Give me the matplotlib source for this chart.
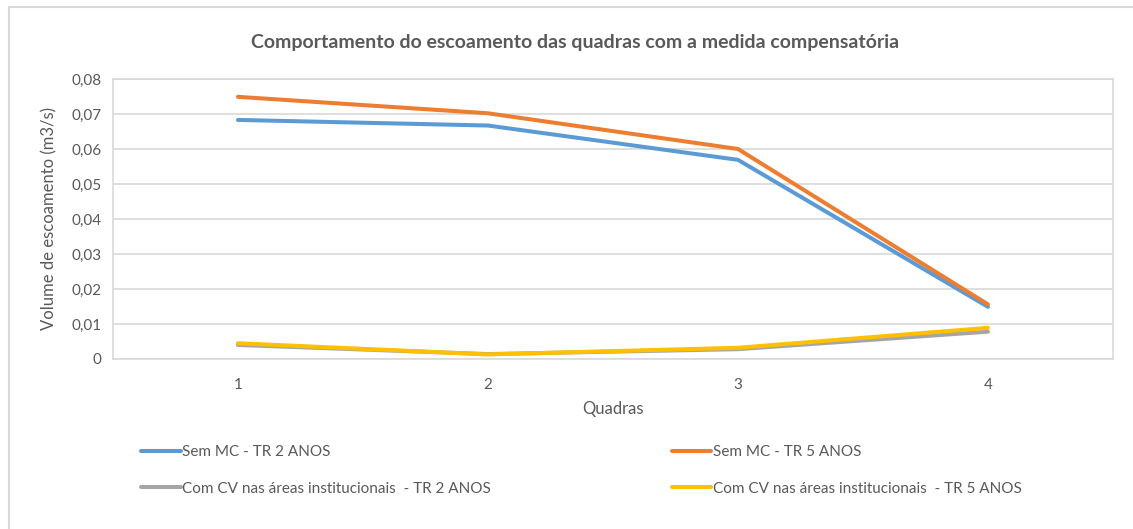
import matplotlib.pyplot as plt
from matplotlib.lines import Line2D

plt.rcParams['font.family'] = ['Lato', 'DejaVu Sans']

quadras = [1, 2, 3, 4]
sem_mc_tr2 = [0.0683, 0.0667, 0.0569, 0.0149]
sem_mc_tr5 = [0.0749, 0.0702, 0.0600, 0.0156]
com_cv_tr2 = [0.0040, 0.0014, 0.0028, 0.0078]
com_cv_tr5 = [0.0045, 0.0013, 0.0032, 0.0089]
y_ticks = [0, 0.01, 0.02, 0.03, 0.04, 0.05, 0.06, 0.07, 0.08]
y_labels = ['0', '0,01', '0,02', '0,03', '0,04', '0,05', '0,06', '0,07', '0,08']

series = [
    ('Sem MC - TR 2 ANOS', sem_mc_tr2, '#5B9BD5'),
    ('Com CV nas áreas institucionais  - TR 2 ANOS', com_cv_tr2, '#A5A5A5'),
    ('Sem MC - TR 5 ANOS', sem_mc_tr5, '#ED7D31'),
    ('Com CV nas áreas institucionais  - TR 5 ANOS', com_cv_tr5, '#FFC000'),
]

txt = '#595959'
fig = plt.figure(figsize=(11.33, 5.29), dpi=100)
ax = fig.add_axes([0.0997, 0.3214, 0.8826, 0.5293])

# draw order: blue, orange, gray, yellow (yellow on top of gray)
handles = []
for i in [0, 2, 1, 3]:
    name, vals, col = series[i]
    ax.plot(quadras, vals, color=col, lw=2.9, solid_capstyle='round',
            solid_joinstyle='round', zorder=3 + i)
for name, vals, col in series:
    handles.append(Line2D([0], [0], color=col, lw=2.9, solid_capstyle='round'))

ax.set_xlim(0.5, 4.5)
ax.set_ylim(0, 0.08)
ax.set_yticks(y_ticks)
ax.set_yticklabels(y_labels)
ax.set_xticks(quadras)
ax.tick_params(length=0, labelsize=11, colors=txt, pad=8)
ax.tick_params(axis='x', pad=14)
ax.grid(axis='y', color='#D9D9D9', lw=1.2)
ax.set_axisbelow(True)
for s in ax.spines.values():
    s.set_color('#D9D9D9')
    s.set_linewidth(1.2)

ax.set_xlabel('Quadras', fontsize=12, color=txt, labelpad=6)
ax.set_ylabel('Volume de escoamento (m3/s)', fontsize=12, color=txt, labelpad=10)
fig.text(0.5075, 0.92, 'Comportamento do escoamento das quadras com a medida compensatória',
         ha='center', va='center', fontsize=14, fontweight='bold', color=txt)

fig.legend(handles, [s[0] for s in series], ncol=2, loc='upper left',
           bbox_to_anchor=(0.1125, 0.184), bbox_transform=fig.transFigure,
           frameon=False, fontsize=11, labelcolor=txt, handlelength=2.6,
           handletextpad=0.1, columnspacing=11.8, labelspacing=1.45)

# outer chart frame (top and left edges)
fig.add_artist(Line2D([0.008, 1.0], [0.986, 0.986], color='#D9D9D9', lw=1.5,
                      transform=fig.transFigure))
fig.add_artist(Line2D([0.008, 0.008], [0.0, 0.986], color='#D9D9D9', lw=1.5,
                      transform=fig.transFigure))

fig.savefig('out.png', dpi=100, facecolor='white')
